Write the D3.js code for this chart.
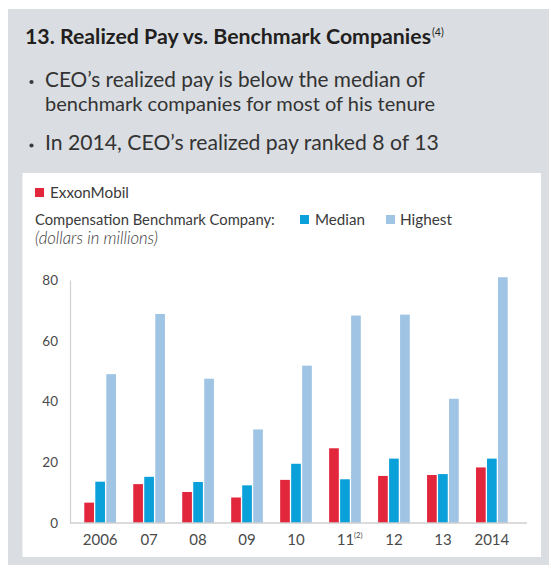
<!DOCTYPE html>
<html>
<head>
<meta charset="utf-8">
<script src="https://cdn.jsdelivr.net/npm/d3@7"></script>
<style>
  body { margin: 0; background: #fff; }
  svg { display: block; font-family: Lato, "Open Sans", sans-serif; }
</style>
</head>
<body>
<script>
// data (dollars in millions)
var years = ["2006", "07", "08", "09", "10", "11", "12", "13", "2014"];
var yearNotes = ["", "", "", "", "", "(2)", "", "", ""];
var exxonMobil = [6.7, 12.8, 10.2, 8.4, 14.2, 24.6, 15.5, 15.8, 18.3];
var median = [13.6, 15.2, 13.5, 12.4, 19.5, 14.4, 21.2, 16.1, 21.2];
var highest = [49.0, 68.8, 47.5, 30.8, 51.8, 68.3, 68.6, 40.9, 80.9];
var seriesNames = ["ExxonMobil", "Median", "Highest"];
var seriesColors = ["#e2263c", "#0aa1da", "#9fc4e4"];
var yTicks = [0, 20, 40, 60, 80];

var title = "13. Realized Pay vs. Benchmark Companies";
var titleNote = "(4)";
var bullets = [
  ["CEO\u2019s realized pay is below the median of", "benchmark companies for most of his tenure"],
  ["In 2014, CEO\u2019s realized pay ranked 8 of 13"]
];

var W = 551, H = 568;
var svg = d3.select("body").append("svg").attr("width", W).attr("height", H);

// shrink/grow font so a text fits a measured width
function fit(sel, w) {
  var fs = parseFloat(sel.attr("font-size"));
  var l = sel.node().getComputedTextLength();
  sel.attr("font-size", (fs * w / l).toFixed(2));
}

// background panel and white card
svg.append("rect").attr("x", 8).attr("y", 9).attr("width", 541).attr("height", 556).attr("fill", "#dadee2");
svg.append("rect").attr("x", 22.5).attr("y", 173).attr("width", 518.5).attr("height", 384).attr("fill", "#fff");

// header
var t = svg.append("text").attr("x", 25).attr("y", 44).attr("font-size", 20)
  .attr("font-weight", 700).attr("fill", "#231f20").text(title);
fit(t, 406);
svg.append("text").attr("x", 432).attr("y", 36).attr("font-size", 10.5)
  .attr("fill", "#231f20").text(titleNote);

var lineY = [[86.5, 110.5], [150]];
bullets.forEach(function(b, i) {
  svg.append("circle").attr("cx", 31.5).attr("cy", lineY[i][0] - 4.5).attr("r", 2.1).attr("fill", "#3a3a3a");
  b.forEach(function(s, j) {
    svg.append("text").attr("class", "bl").attr("x", 45).attr("y", lineY[i][j])
      .attr("font-size", 19).attr("fill", "#333").text(s);
  });
});
var blWidths = [380, 390, 394];
svg.selectAll("text.bl").each(function(d, i) { fit(d3.select(this), blWidths[i]); });

// legend
var lg = svg.append("g");
lg.append("rect").attr("x", 35).attr("y", 188).attr("width", 9).attr("height", 9).attr("fill", seriesColors[0]);
var lt = lg.append("text").attr("x", 50).attr("y", 197.5).attr("font-size", 14).attr("fill", "#3a3a3a").text(seriesNames[0]);
fit(lt, 79);
var ct = lg.append("text").attr("x", 35).attr("y", 224.5).attr("font-size", 14).attr("fill", "#3a3a3a").text("Compensation Benchmark Company:");
fit(ct, 240);
lg.append("rect").attr("x", 300).attr("y", 215).attr("width", 9).attr("height", 9).attr("fill", seriesColors[1]);
var mt = lg.append("text").attr("x", 315).attr("y", 224.5).attr("font-size", 14).attr("fill", "#3a3a3a").text(seriesNames[1]);
fit(mt, 50);
lg.append("rect").attr("x", 386).attr("y", 215).attr("width", 9).attr("height", 9).attr("fill", seriesColors[2]);
var ht = lg.append("text").attr("x", 400).attr("y", 224.5).attr("font-size", 14).attr("fill", "#3a3a3a").text(seriesNames[2]);
fit(ht, 52);
var dt = lg.append("text").attr("x", 35).attr("y", 244).attr("font-size", 14).attr("font-style", "italic")
  .attr("font-weight", 300).attr("fill", "#3a3a3a").text("(dollars in millions)");
fit(dt, 123);

// scales
var plot = {left: 70, right: 527, top: 280, bottom: 523};
var x = d3.scaleBand().domain(years).range([plot.left, 522]).paddingInner(0.353).paddingOuter(0.292);
var xs = d3.scaleBand().domain(seriesNames).range([0, x.bandwidth()]).paddingInner(0.12);
var y = d3.scaleLinear().domain([0, 80]).range([plot.bottom, plot.top]);

var rows = years.map(function(yr, i) {
  return {year: yr, vals: [exxonMobil[i], median[i], highest[i]]};
});

// bars
var grp = svg.append("g").selectAll("g").data(rows).enter().append("g")
  .attr("transform", function(d) { return "translate(" + x(d.year) + ",0)"; });
grp.selectAll("rect").data(function(d) { return d.vals; }).enter().append("rect")
  .attr("x", function(d, i) { return xs(seriesNames[i]); })
  .attr("y", function(d) { return y(d); })
  .attr("width", xs.bandwidth())
  .attr("height", function(d) { return y(0) - y(d); })
  .attr("fill", function(d, i) { return seriesColors[i]; });

// y axis
var yAxisGroup = svg.append("g").attr("transform", "translate(" + plot.left + ",0)");
yAxisGroup.call(d3.axisLeft(y).tickValues(yTicks).tickSize(0).tickPadding(12));
yAxisGroup.select(".domain").attr("stroke", "#cfcfcf").attr("stroke-width", 1.2);
yAxisGroup.selectAll("text").attr("font-family", "Lato, sans-serif").attr("font-size", 13.5).attr("fill", "#4a4a4a");

// x axis
var xAxisGroup = svg.append("g").attr("transform", "translate(0," + plot.bottom + ")");
xAxisGroup.call(d3.axisBottom(x).tickSize(0).tickPadding(11));
xAxisGroup.select(".domain").remove();
xAxisGroup.append("line").attr("x1", plot.left).attr("x2", plot.right).attr("stroke", "#cfcfcf").attr("stroke-width", 1.5);
xAxisGroup.selectAll(".tick text").attr("font-family", "Lato, sans-serif").attr("font-size", 15).attr("fill", "#4a4a4a")
  .each(function(d, i) {
    if (yearNotes[i]) {
      d3.select(this).attr("text-anchor", "start").attr("dx", "-0.55em")
        .append("tspan").attr("font-size", 7.5).attr("dy", "-0.9em").text(yearNotes[i]);
    }
  });
</script>
</body>
</html>
